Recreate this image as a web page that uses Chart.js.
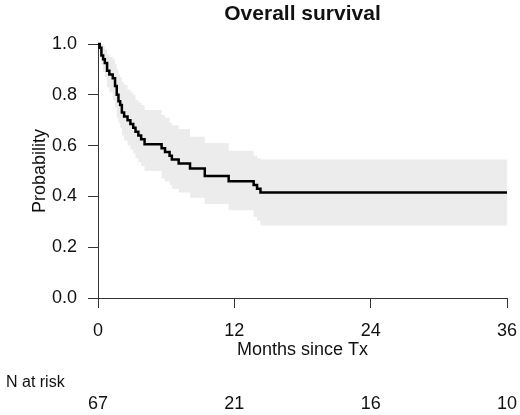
<!DOCTYPE html>
<html>
<head>
<meta charset="utf-8">
<script src="https://cdn.jsdelivr.net/npm/chart.js@4"></script>
<style>
  html, body { margin: 0; padding: 0; background: #fff; }
  #wrap { width: 520px; height: 415px; }
</style>
</head>
<body>
<div id="wrap"><canvas id="kmChart" width="520" height="415"></canvas></div>
<script>
// Kaplan-Meier step points (months since Tx)
const months = [0, 0.15, 0.3, 0.45, 0.6, 0.8, 1.0, 1.3, 1.5, 1.65, 1.8, 1.95, 2.1, 2.3, 2.6, 2.85, 3.1, 3.3, 3.55, 3.8, 4.1, 5.6, 5.9, 6.3, 6.5, 7.1, 8.1, 9.4, 11.5, 13.7, 14.0, 14.3, 36];
const survival = [1.0, 0.985, 0.955, 0.94, 0.925, 0.895, 0.88, 0.865, 0.835, 0.80, 0.775, 0.76, 0.73, 0.715, 0.70, 0.685, 0.67, 0.655, 0.64, 0.625, 0.605, 0.59, 0.575, 0.56, 0.545, 0.53, 0.51, 0.48, 0.46, 0.445, 0.43, 0.415, 0.415];
const upperCI = [1.0, 1.0, 1.0, 0.99, 0.98, 0.96, 0.95, 0.94, 0.92, 0.90, 0.88, 0.87, 0.85, 0.84, 0.82, 0.81, 0.80, 0.78, 0.77, 0.76, 0.74, 0.72, 0.71, 0.69, 0.68, 0.665, 0.635, 0.61, 0.58, 0.56, 0.55, 0.545, 0.545];
const lowerCI = [1.0, 0.96, 0.92, 0.89, 0.87, 0.83, 0.81, 0.78, 0.75, 0.71, 0.69, 0.67, 0.64, 0.62, 0.60, 0.585, 0.57, 0.55, 0.535, 0.52, 0.50, 0.47, 0.46, 0.445, 0.43, 0.415, 0.395, 0.37, 0.345, 0.32, 0.305, 0.285, 0.285];

const xTicks = [0, 12, 24, 36];
const riskCounts = [67, 21, 16, 10];

const FONT = "'Liberation Sans', Arial, Helvetica, sans-serif";
const TEXT = '#111';
const AXIS = '#333';

const pts = arr => months.map((m, i) => ({ x: m, y: arr[i] }));

// "N at risk" table under the x axis
const riskTable = {
  id: 'riskTable',
  afterDraw(chart) {
    const ctx = chart.ctx;
    const xs = chart.scales.x;
    ctx.save();
    ctx.fillStyle = TEXT;
    ctx.font = '16px ' + FONT;
    ctx.textBaseline = 'middle';
    ctx.textAlign = 'left';
    ctx.fillText('N at risk', 6, 383);
    ctx.font = '18px ' + FONT;
    ctx.textAlign = 'center';
    riskCounts.forEach((n, i) => {
      ctx.fillText(String(n), xs.getPixelForValue(xTicks[i]), 404);
    });
    ctx.restore();
  }
};

new Chart(document.getElementById('kmChart'), {
  type: 'line',
  data: {
    datasets: [
      { label: 'Survival', data: pts(survival), stepped: 'before', borderColor: '#000', borderWidth: 2.5, pointRadius: 0, fill: false, clip: false },
      { label: 'Upper', data: pts(upperCI), stepped: 'before', borderWidth: 0, borderColor: 'rgba(0,0,0,0)', backgroundColor: '#ececec', pointRadius: 0, fill: '+1' },
      { label: 'Lower', data: pts(lowerCI), stepped: 'before', borderWidth: 0, borderColor: 'rgba(0,0,0,0)', pointRadius: 0, fill: false }
    ]
  },
  options: {
    responsive: false,
    animation: false,
    events: [],
    layout: { padding: { top: 0, right: 13, bottom: 0, left: 0 } },
    plugins: {
      legend: { display: false },
      tooltip: { enabled: false },
      title: {
        display: true,
        text: 'Overall survival',
        fullSize: false,
        color: TEXT,
        font: { family: FONT, size: 21, weight: 'bold' },
        padding: { top: 2, bottom: 16.8 }
      }
    },
    scales: {
      x: {
        type: 'linear',
        min: 0,
        max: 36,
        afterFit: s => { s.height = 117; s.paddingLeft = 0; s.paddingRight = 0; },
        afterBuildTicks: s => { s.ticks = xTicks.map(v => ({ value: v })); },
        ticks: { color: TEXT, font: { family: FONT, size: 18 }, padding: 12, maxRotation: 0 },
        grid: { drawOnChartArea: false, drawTicks: true, tickLength: 10, color: AXIS },
        border: { display: true, color: AXIS, width: 1 },
        title: { display: true, text: 'Months since Tx', color: TEXT, font: { family: FONT, size: 18 }, padding: { top: 0, bottom: 54 } }
      },
      y: {
        min: 0,
        max: 1,
        afterFit: s => { s.width = 98; },
        ticks: { stepSize: 0.2, color: TEXT, font: { family: FONT, size: 18 }, padding: 11, callback: v => v.toFixed(1) },
        grid: { drawOnChartArea: false, drawTicks: true, tickLength: 10, color: AXIS },
        border: { display: true, color: AXIS, width: 1 },
        title: { display: true, text: 'Probability', color: TEXT, font: { family: FONT, size: 18 }, padding: { top: 29, bottom: 0 } }
      }
    }
  },
  plugins: [riskTable]
});
</script>
</body>
</html>
